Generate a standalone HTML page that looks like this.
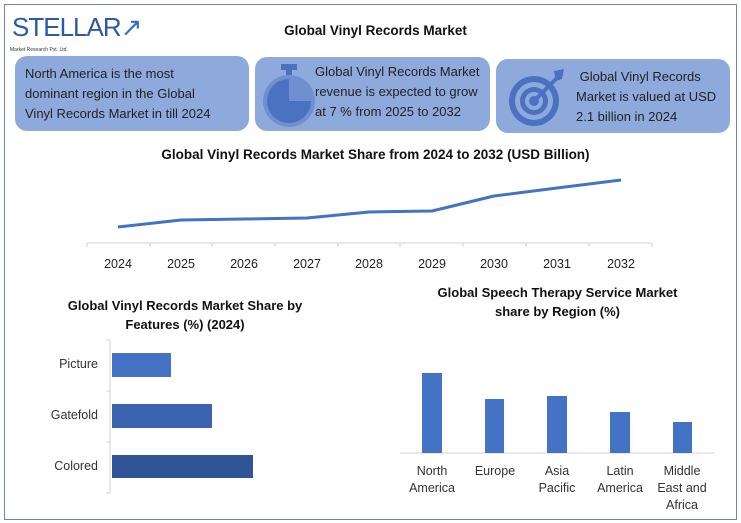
<!DOCTYPE html>
<html><head><meta charset="utf-8"><style>
body{margin:0;background:#fff;}
#c{position:relative;width:741px;height:523px;overflow:hidden;font-family:"Liberation Sans",sans-serif;}
.box{position:absolute;background:#8ea9db;border-radius:12px;color:#222;font-size:13px;line-height:20px;}
.t{position:absolute;font-weight:bold;font-size:13px;color:#111;text-align:center;}
.l{position:absolute;font-size:12.5px;color:#333;text-align:center;}
</style></head><body><div id="c">
<div style="position:absolute;left:4px;top:4px;width:731px;height:514px;border:1.5px solid #6b84a8;"></div>
<div style="position:absolute;left:12px;top:12px;font-size:26px;color:#2d5aa8;font-family:'Liberation Sans Narrow','Liberation Sans',sans-serif;letter-spacing:-1px;">STELLAR<span style="color:#3070c0">↗</span></div>
<div style="position:absolute;left:10px;top:47px;font-size:5px;color:#333;">Market Research Pvt. Ltd.</div>
<div class="t" style="left:0;width:741px;top:23px;font-size:13.5px;margin-left:5px">Global Vinyl Records Market</div>
<div class="box" style="left:15px;top:56px;width:234px;height:75px;"><div style="position:absolute;left:10px;top:8px;">North America is the most<br>dominant region in the Global<br>Vinyl Records Market in till 2024</div></div>
<div class="box" style="left:255px;top:57px;width:235px;height:74px;">
<svg style="position:absolute;left:4px;top:4px" width="60" height="68"><rect x="22" y="3" width="16" height="6" fill="#4a72c0"/><rect x="27" y="8" width="6" height="6" fill="#4a72c0"/><circle cx="30" cy="40" r="26" fill="#6f8fd0"/><path d="M30 40 V18 A22 22 0 1 0 52 40 Z" fill="#4a72c0"/></svg>
<div style="position:absolute;left:60px;top:5px;">Global Vinyl Records Market<br>revenue is expected to grow<br>at 7 % from 2025 to 2032</div></div>
<div class="box" style="left:496px;top:59px;width:234px;height:74px;">
<svg style="position:absolute;left:6px;top:6px" width="66" height="64"><circle cx="32" cy="36" r="25" fill="#4a72c0"/><circle cx="32" cy="36" r="19" fill="#8ea9db"/><circle cx="32" cy="36" r="14" fill="#4a72c0"/><circle cx="32" cy="36" r="9" fill="#8ea9db"/><circle cx="32" cy="36" r="5" fill="#4a72c0"/><line x1="32" y1="36" x2="56" y2="12" stroke="#4a72c0" stroke-width="4"/><path d="M52 6 L62 4 L60 14 L54 16 Z" fill="#4a72c0"/></svg>
<div style="position:absolute;left:80px;top:8px;">&nbsp;Global Vinyl Records<br>Market is valued at USD<br>2.1 billion in 2024</div></div>
<div class="t" style="left:0;width:741px;top:147px;font-size:13.5px;margin-left:5px">Global Vinyl Records Market Share from 2024 to 2032 (USD Billion)</div>
<svg style="position:absolute;left:0;top:0" width="741" height="523">
<line x1="87" y1="243" x2="652" y2="243" stroke="#d0d0d0"/>
<g stroke="#d0d0d0"><line x1="87" y1="243" x2="87" y2="247"/><line x1="150" y1="243" x2="150" y2="247"/><line x1="212" y1="243" x2="212" y2="247"/><line x1="275" y1="243" x2="275" y2="247"/><line x1="338" y1="243" x2="338" y2="247"/><line x1="400" y1="243" x2="400" y2="247"/><line x1="463" y1="243" x2="463" y2="247"/><line x1="526" y1="243" x2="526" y2="247"/><line x1="589" y1="243" x2="589" y2="247"/><line x1="652" y1="243" x2="652" y2="247"/></g>
<polyline points="118,227 181,220 244,219 307,218 369,212 432,211 494,196 557,188 621,180" fill="none" stroke="#4472c4" stroke-width="3" stroke-linejoin="round"/>
<g font-family="Liberation Sans" font-size="12.5" fill="#222" text-anchor="middle"><text x="118" y="268">2024</text><text x="181" y="268">2025</text><text x="244" y="268">2026</text><text x="307" y="268">2027</text><text x="369" y="268">2028</text><text x="432" y="268">2029</text><text x="494" y="268">2030</text><text x="557" y="268">2031</text><text x="621" y="268">2032</text></g>
<line x1="110" y1="340" x2="110" y2="493" stroke="#d0d0d0"/>
<g stroke="#d0d0d0"><line x1="106" y1="340" x2="110" y2="340"/><line x1="106" y1="391" x2="110" y2="391"/><line x1="106" y1="442" x2="110" y2="442"/><line x1="106" y1="493" x2="110" y2="493"/></g>
<rect x="112" y="353" width="59" height="24" fill="#4472c4"/>
<rect x="112" y="404" width="100" height="24" fill="#3a64ad"/>
<rect x="112" y="455" width="141" height="23" fill="#2f5597"/>
<line x1="400" y1="453" x2="714" y2="453" stroke="#d0d0d0"/>
<g fill="#4472c4"><rect x="422" y="373" width="20" height="80"/><rect x="485" y="399" width="19" height="54"/><rect x="547" y="396" width="20" height="57"/><rect x="610" y="412" width="20" height="41"/><rect x="673" y="422" width="19" height="31"/></g>
</svg>
<div class="t" style="left:60px;width:250px;top:296px;line-height:19px;">Global Vinyl Records Market Share by Features (%) (2024)</div>
<div class="t" style="left:420px;width:275px;top:283px;line-height:19px;">Global Speech Therapy Service Market share by Region (%)</div>
<div class="l" style="left:40px;width:58px;top:357px;text-align:right">Picture</div>
<div class="l" style="left:30px;width:68px;top:408px;text-align:right">Gatefold</div>
<div class="l" style="left:30px;width:68px;top:459px;text-align:right">Colored</div>
<div class="l" style="left:400px;width:64px;top:463px;line-height:17px">North<br>America</div>
<div class="l" style="left:463px;width:64px;top:463px;line-height:17px">Europe</div>
<div class="l" style="left:525px;width:64px;top:463px;line-height:17px">Asia<br>Pacific</div>
<div class="l" style="left:588px;width:64px;top:463px;line-height:17px">Latin<br>America</div>
<div class="l" style="left:650px;width:64px;top:463px;line-height:17px">Middle<br>East and<br>Africa</div>
</div></body></html>
